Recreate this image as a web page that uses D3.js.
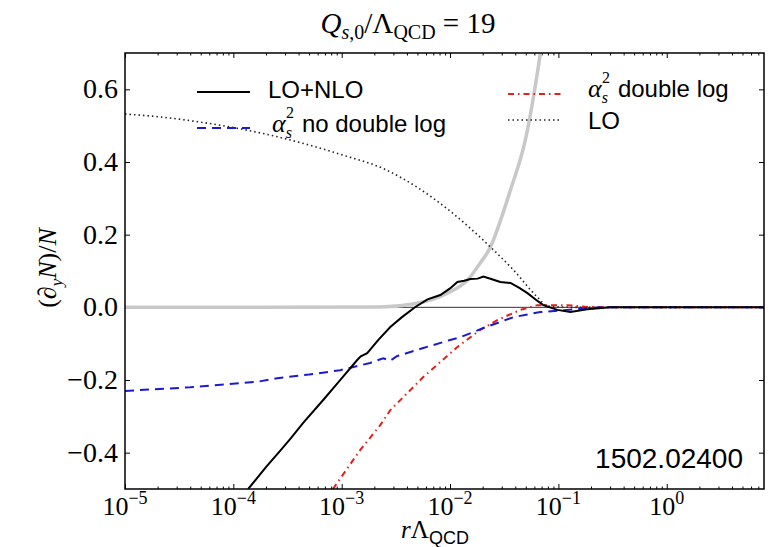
<!DOCTYPE html>
<html>
<head>
<meta charset="utf-8">
<script src="https://cdn.jsdelivr.net/npm/d3@7"></script>
<style>
  body { margin: 0; background: #fff; }
  .math { font-family: "Liberation Serif", "DejaVu Serif", serif; }
  .sans { font-family: "Liberation Sans", Arial, sans-serif; }
  .axis path { display: none; }
  .axis line { stroke: #000; }
</style>
</head>
<body>
<div id="chart"></div>
<script>
'use strict';

// values: [r * Lambda_QCD, (d_y N)/N]
var loNlo = [
    [1.37e-4, -0.50], [2.0e-4, -0.44], [2.70e-4, -0.395], [3.4e-4, -0.36], [4.41e-4, -0.318],
    [6.75e-4, -0.255], [9.5e-4, -0.203], [1.39e-3, -0.145], [1.5e-3, -0.135], [1.72e-3, -0.126],
    [2.2e-3, -0.088], [2.81e-3, -0.054], [3.6e-3, -0.027], [4.78e-3, 0.001], [6.2e-3, 0.022],
    [8.13e-3, 0.034], [1.0e-2, 0.052], [1.17e-2, 0.07], [1.35e-2, 0.073], [1.54e-2, 0.078],
    [1.8e-2, 0.079], [2.03e-2, 0.085], [2.4e-2, 0.078], [2.91e-2, 0.070], [3.61e-2, 0.067],
    [4.4e-2, 0.053], [5.18e-2, 0.039], [6.2e-2, 0.021], [7.26e-2, 0.006], [9.79e-2, -0.007],
    [0.129, -0.013], [0.185, -0.005], [0.302, 0.0], [1, 0.0], [7.9, 0.0]
];
var noDoubleLog = [
    [1e-5, -0.23], [4.0e-5, -0.22], [1.66e-4, -0.205], [2.54e-4, -0.195], [5.0e-4, -0.185],
    [9.7e-4, -0.173], [1.83e-3, -0.153], [2.42e-3, -0.14], [2.8e-3, -0.147], [3.26e-3, -0.134],
    [5.66e-3, -0.112], [1.0e-2, -0.09], [1.25e-2, -0.082], [2.03e-2, -0.057], [3.84e-2, -0.027],
    [6.8e-2, -0.013], [0.121, -0.007], [0.244, 0.0], [1, 0.0], [7.9, 0.0]
];
var doubleLog = [
    [8.3e-4, -0.50], [1.48e-3, -0.393], [2.27e-3, -0.324], [2.81e-3, -0.283], [5.66e-3, -0.192],
    [1.17e-2, -0.109], [1.9e-2, -0.062], [2.73e-2, -0.035], [4.46e-2, -0.007], [6.4e-2, 0.006],
    [0.121, 0.006], [0.185, 0.001], [0.37, 0.0], [1, 0.0], [7.9, 0.0]
];
var lo = [
    [1e-5, 0.532], [2.1e-5, 0.524], [4.9e-5, 0.51], [2.19e-4, 0.474], [1.0e-3, 0.42],
    [2.5e-3, 0.38], [5.0e-3, 0.33], [1.0e-2, 0.265], [1.32e-2, 0.235], [2.36e-2, 0.166],
    [3.84e-2, 0.103], [6.4e-2, 0.028], [7.9e-2, 0.004], [0.129, 0.0], [1, 0.0], [7.9, 0.0]
];
var grey = [
    [1e-5, 0.0], [2.27e-3, 0.001], [4.57e-3, 0.009], [9.44e-3, 0.039], [1.45e-2, 0.075],
    [1.9e-2, 0.122], [2.36e-2, 0.166], [2.51e-2, 0.185], [3.61e-2, 0.323], [4.95e-2, 0.46],
    [6.82e-2, 0.70], [7.6e-2, 0.80]
];

var xMajor = [1e-5, 1e-4, 1e-3, 1e-2, 1e-1, 1];
var xMajorExp = ['\u22125', '\u22124', '\u22123', '\u22122', '\u22121', '0'];
var yTicks = [-0.4, -0.2, 0.0, 0.2, 0.4, 0.6];
var yTickLabels = ['\u22120.4', '\u22120.2', '0.0', '0.2', '0.4', '0.6'];

var W = 780, H = 547;
var margin = { top: 53, right: 16, bottom: 58, left: 125 };
var width = W - margin.left - margin.right;
var height = H - margin.top - margin.bottom;

var x = d3.scaleLog().domain([1e-5, 7.9]).range([0, width]);
var y = d3.scaleLinear().domain([-0.5, 0.7]).range([height, 0]);

var xMinor = [];
for (var e = -5; e <= 0; e++) {
    for (var m = 2; m <= 9; m++) {
        var v = m * Math.pow(10, e);
        if (v < 7.9) { xMinor.push(v); }
    }
}

var root = d3.select('#chart').append('svg')
    .attr('width', W)
    .attr('height', H);

var svg = root.append('g')
    .attr('transform', 'translate(' + margin.left + ',' + margin.top + ')');

svg.append('clipPath').attr('id', 'clip')
    .append('rect').attr('width', width).attr('height', height);

// ticks, inward on all four sides
svg.append('g').attr('class', 'axis').attr('transform', 'translate(0,' + height + ')')
    .call(d3.axisBottom(x).tickValues(xMajor).tickSize(-5).tickFormat(''));
svg.append('g').attr('class', 'axis').attr('transform', 'translate(0,' + height + ')')
    .call(d3.axisBottom(x).tickValues(xMinor).tickSize(-2.5).tickFormat(''));
svg.append('g').attr('class', 'axis')
    .call(d3.axisTop(x).tickValues(xMajor).tickSize(-5).tickFormat(''));
svg.append('g').attr('class', 'axis')
    .call(d3.axisTop(x).tickValues(xMinor).tickSize(-2.5).tickFormat(''));
svg.append('g').attr('class', 'axis')
    .call(d3.axisLeft(y).tickValues(yTicks).tickSize(-5).tickFormat(''));
svg.append('g').attr('class', 'axis').attr('transform', 'translate(' + width + ',0)')
    .call(d3.axisRight(y).tickValues(yTicks).tickSize(-5).tickFormat(''));

// zero line
svg.append('line')
    .attr('x1', 0).attr('x2', width)
    .attr('y1', y(0)).attr('y2', y(0))
    .style('stroke', '#333').style('stroke-width', 1);

var line = d3.line()
    .x(function(d) { return x(d[0]); })
    .y(function(d) { return y(d[1]); });
var smooth = d3.line().curve(d3.curveMonotoneX)
    .x(function(d) { return x(d[0]); })
    .y(function(d) { return y(d[1]); });

var curves = svg.append('g').attr('clip-path', 'url(#clip)');

curves.append('path').datum(grey)
    .attr('d', smooth)
    .style('fill', 'none').style('stroke', '#c8c8c8').style('stroke-width', 3.5);

curves.append('path').datum(lo)
    .attr('d', smooth)
    .style('fill', 'none').style('stroke', '#222').style('stroke-width', 1.6)
    .style('stroke-dasharray', '1.5,3');

curves.append('path').datum(doubleLog)
    .attr('d', line)
    .style('fill', 'none').style('stroke', '#e0201a').style('stroke-width', 2)
    .style('stroke-dasharray', '6,4,1.5,4');

curves.append('path').datum(noDoubleLog)
    .attr('d', line)
    .style('fill', 'none').style('stroke', '#1a1ad0').style('stroke-width', 2)
    .style('stroke-dasharray', '9,6');

curves.append('path').datum(loNlo)
    .attr('d', line)
    .style('fill', 'none').style('stroke', '#000').style('stroke-width', 2);

// frame
svg.append('rect')
    .attr('width', width).attr('height', height)
    .style('fill', 'none').style('stroke', '#000').style('stroke-width', 1.5);

// tick labels
svg.selectAll('.xlab')
    .data(xMajor)
    .enter().append('text')
    .attr('class', 'math xlab')
    .attr('x', function(d) { return x(d); })
    .attr('y', height + 26)
    .attr('text-anchor', 'middle')
    .style('font-size', '26px')
    .each(function(d, i) {
        var t = d3.select(this);
        t.append('tspan').text('10');
        t.append('tspan').attr('dy', '-11').style('font-size', '18px').text(xMajorExp[i]);
    });

svg.selectAll('.ylab')
    .data(yTicks)
    .enter().append('text')
    .attr('class', 'math ylab')
    .attr('x', -7)
    .attr('y', function(d) { return y(d) + 9; })
    .attr('text-anchor', 'end')
    .style('font-size', '28px')
    .text(function(d, i) { return yTickLabels[i]; });

// title
var title = root.append('text')
    .attr('class', 'math')
    .attr('x', 408)
    .attr('y', 33)
    .attr('text-anchor', 'middle')
    .style('font-size', '29px');
title.append('tspan').style('font-style', 'italic').text('Q');
title.append('tspan').attr('dy', 6).style('font-size', '20px').style('font-style', 'italic').text('s');
title.append('tspan').style('font-size', '20px').text(',0');
title.append('tspan').attr('dy', -6).text('/\u039B');
title.append('tspan').attr('dy', 6).style('font-size', '20px').text('QCD');
title.append('tspan').attr('dy', -6).text(' = 19');

// axis labels
var xl = root.append('text')
    .attr('class', 'math')
    .attr('x', 435)
    .attr('y', 538)
    .attr('text-anchor', 'middle')
    .style('font-size', '25px');
xl.append('tspan').style('font-style', 'italic').text('r');
xl.append('tspan').text('\u039B');
xl.append('tspan').attr('class', 'sans').attr('dy', 6).style('font-size', '18px').text('QCD');

var yl = root.append('text')
    .attr('class', 'math')
    .attr('transform', 'translate(56,268) rotate(-90)')
    .attr('text-anchor', 'middle')
    .style('font-size', '26px');
yl.append('tspan').text('(\u2202');
yl.append('tspan').attr('dy', 6).style('font-size', '17px').style('font-style', 'italic').text('y');
yl.append('tspan').attr('dy', -6).style('font-style', 'italic').text('N');
yl.append('tspan').text(')/');
yl.append('tspan').style('font-style', 'italic').text('N');

// legend
var legendItems = [
    { x: 197, y: 92, tx: 268, ty: 98, label: 'LO+NLO', alpha: false, color: '#000', dash: null, w: 2 },
    { x: 197, y: 128, tx: 272, ty: 132, label: 'no double log', alpha: true, color: '#1a1ad0', dash: '9,6', w: 2 },
    { x: 508, y: 94, tx: 588, ty: 97, label: 'double log', alpha: true, color: '#e0201a', dash: '6,4,1.5,4', w: 2 },
    { x: 508, y: 120, tx: 588, ty: 129, label: 'LO', alpha: false, color: '#222', dash: '1.5,3', w: 1.6 }
];

var legend = root.append('g');
legendItems.forEach(function(d) {
    legend.append('line')
        .attr('x1', d.x).attr('x2', d.x + 53)
        .attr('y1', d.y).attr('y2', d.y)
        .style('stroke', d.color).style('stroke-width', d.w)
        .style('stroke-dasharray', d.dash);
    var t = legend.append('text')
        .attr('x', d.tx).attr('y', d.ty)
        .style('font-size', '24px');
    if (d.alpha) {
        // alpha_s^2 in one text: subscript, then superscript pulled back over it
        t.append('tspan').attr('class', 'math')
            .style('font-size', '26px').style('font-style', 'italic').text('\u03B1');
        t.append('tspan').attr('class', 'math').attr('dy', 6)
            .style('font-size', '16px').style('font-style', 'italic').text('s');
        t.append('tspan').attr('class', 'math').attr('dx', -6).attr('dy', -20)
            .style('font-size', '16px').text('2');
        t.append('tspan').attr('class', 'sans').attr('dx', 8).attr('dy', 14)
            .text(d.label);
    } else {
        t.attr('class', 'sans').text(d.label);
    }
});

root.append('text')
    .attr('class', 'sans')
    .attr('x', 743)
    .attr('y', 468)
    .attr('text-anchor', 'end')
    .style('font-size', '28px')
    .text('1502.02400');
</script>
</body>
</html>
